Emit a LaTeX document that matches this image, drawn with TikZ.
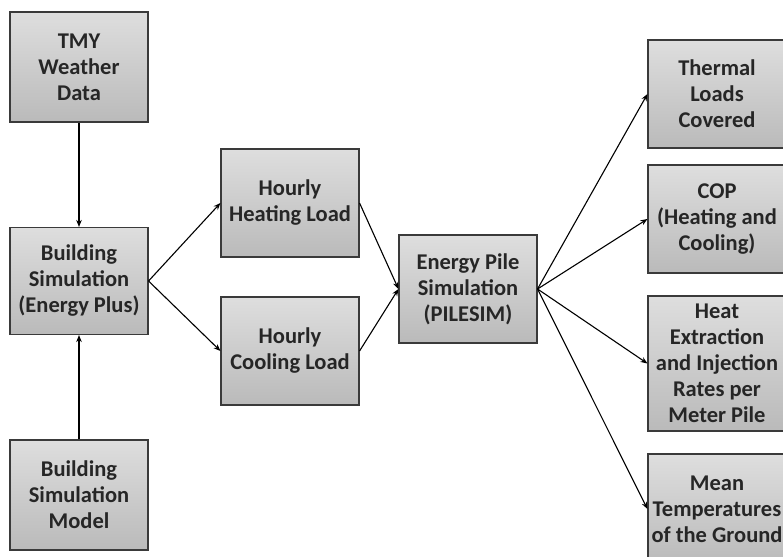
\documentclass[tikz,border=0pt]{standalone}
\usepackage{fontspec}
\setmainfont{Carlito}
\usetikzlibrary{arrows.meta,positioning}
\definecolor{boxtop}{HTML}{DEDEDE}
\definecolor{boxbot}{HTML}{BABABA}
\definecolor{boxline}{HTML}{3A3A3A}
\tikzset{
  blk/.style={draw=boxline, line width=1.1pt, top color=boxtop, bottom color=boxbot,
    minimum width=138pt, minimum height=#1, align=center,
    inner sep=0pt, text=black!85, font=\fontsize{22.5}{26}\selectfont\bfseries},
  blk/.default=108pt,
  arr/.style={-{Stealth[length=7pt,width=5.5pt]}, line width=1.1pt}
}
\begin{document}
\begin{tikzpicture}[x=1pt,y=-1pt]
  \clip (0,0) rectangle (783,556);
  \fill[white] (0,0) rectangle (783,556);

  % input side
  \node[blk=110pt] (tmy) at (79, 67) {TMY\\Weather\\Data};
  \node[blk=107pt] (bsim) at (79, 281) {Building\\Simulation\\(Energy Plus)};
  \node[blk=110pt] (bmod) at (79, 495) {Building\\Simulation\\Model};

  % hourly loads
  \node[blk] (heat) at (290, 203) {Hourly\\Heating Load};
  \node[blk] (cool) at (290, 351) {Hourly\\Cooling Load};

  % pile simulation
  \node[blk] (pile) at (468, 289) {Energy Pile\\Simulation\\(PILESIM)};

  % outputs
  \node[blk] (thl) at (717, 94) {Thermal\\Loads\\Covered};
  \node[blk] (cop) at (717, 219) {COP\\(Heating and\\Cooling)};
  \node[blk=135pt] (rate) at (717, 363.5) {Heat\\Extraction\\and Injection\\Rates per\\Meter Pile};
  \node[blk=110pt] (temp) at (717, 509) {Mean\\Temperatures\\of the Ground};

  \draw[arr] (tmy) -- (bsim);
  \draw[arr] (bmod) -- (bsim);
  \draw[arr] (bsim.east) -- (heat.west);
  \draw[arr] (bsim.east) -- (cool.west);
  \draw[arr] (heat.east) -- (pile.west);
  \draw[arr] (cool.east) -- (pile.west);
  \draw[arr] (pile.east) -- (thl.west);
  \draw[arr] (pile.east) -- (cop.west);
  \draw[arr] (pile.east) -- (rate.west);
  \draw[arr] (pile.east) -- (temp.west);
\end{tikzpicture}
\end{document}
